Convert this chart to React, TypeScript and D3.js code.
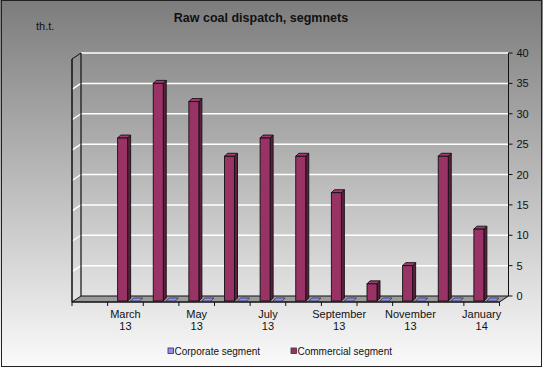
import React from 'react';
import * as d3 from 'd3';

// monthly values, th.t.
const months = ['February', 'March', 'April', 'May', 'June', 'July', 'August',
  'September', 'October', 'November', 'December', 'January'];
const years = ['13', '13', '13', '13', '13', '13', '13', '13', '13', '13', '13', '14'];
const corporate = [null, 0, 0, 0, 0, 0, 0, 0, 0, 0, 0, 0];
const commercial = [null, 26, 35, 32, 23, 26, 23, 17, 2, 5, 23, 11];
const yTicks = [0, 5, 10, 15, 20, 25, 30, 35, 40];

const W = 543, H = 368;
const DX = 9, DY = -6;           // depth of the 3d box
const front = { left: 72, right: 499.5, bottom: 302 };
const font = 'Arial, "Liberation Sans", sans-serif';

const App = () => {
  const x = d3.scaleBand<number>()
              .domain(d3.range(months.length))
              .range([front.left, front.right])
              .padding(0);
  const y = d3.scaleLinear()
              .domain([0, 40])
              .range([front.bottom + DY, 53]);

  const bw = x.bandwidth();
  const backL = front.left + DX, backR = front.right + DX;
  const floorY = front.bottom + DY;

  const pts = (p: number[][]) => p.map(d => d.join(',')).join(' ');

  return (
    <svg width={W} height={H} style={{ position: 'absolute', left: 0, top: 0 }}
         fontFamily={font}>
      <defs>
        <linearGradient id="bg" x1="0" y1="0" x2="0" y2="1">
          <stop offset="0" stopColor="#7c7c7c" />
          <stop offset="1" stopColor="#fbfbfb" />
        </linearGradient>
      </defs>
      <rect x={0} y={0} width={W} height={H} fill="url(#bg)" />
      <rect x={1.5} y={0.5} width={540} height={366} fill="none" stroke="#222" />

      <text x={261} y={22} textAnchor="middle" fontSize={12.5} fontWeight="bold"
            fill="#111">Raw coal dispatch, segmnets</text>
      <text x={36} y={30} fontSize={11} fill="#111">th.t.</text>

      {/* gridlines on back wall and left wall */}
      {yTicks.filter(t => t > 0).map(t =>
        <g key={`g${t}`}>
          <line x1={backL} x2={backR} y1={y(t)} y2={y(t)} stroke="#fff" strokeWidth={1.5} />
          <line x1={front.left} x2={backL} y1={y(t) - DY} y2={y(t)} stroke="#fff" strokeWidth={1.5} />
        </g>
      )}

      {/* floor */}
      <polygon points={pts([[front.left, front.bottom], [front.right, front.bottom],
                            [backR, floorY], [backL, floorY]])}
               fill="#9a9a9a" stroke="#111" strokeWidth={1} />

      {/* walls edges */}
      <line x1={backL} x2={backL} y1={y(40)} y2={floorY} stroke="#111" strokeWidth={1.2} />
      <line x1={front.left} x2={front.left} y1={y(40) - DY} y2={front.bottom} stroke="#111" strokeWidth={1.5} />
      <line x1={front.left} x2={backL} y1={y(40) - DY} y2={y(40)} stroke="#111" strokeWidth={1.2} />

      {/* right value axis */}
      <line x1={backR} x2={backR} y1={y(40)} y2={floorY} stroke="#111" />
      {yTicks.map(t =>
        <g key={`t${t}`}>
          <line x1={backR} x2={backR + 4} y1={y(t)} y2={y(t)} stroke="#111" />
          <text x={backR + 8} y={y(t) + 4} fontSize={11} fill="#111">{t}</text>
        </g>
      )}

      {/* category axis */}
      <line x1={front.left} x2={front.right} y1={front.bottom} y2={front.bottom} stroke="#111" />
      {d3.range(months.length + 1).map(i => {
        const xx = front.left + i * bw;
        return <line key={`c${i}`} x1={xx} x2={xx} y1={front.bottom} y2={front.bottom + 4} stroke="#111" />;
      })}
      {months.map((m, i) => i % 2 === 1 &&
        <text key={`l${i}`} x={x(i)! + bw / 2} textAnchor="middle" fontSize={11} fill="#111">
          <tspan x={x(i)! + bw / 2} y={318}>{m}</tspan>
          <tspan x={x(i)! + bw / 2} y={330}>{years[i]}</tspan>
        </text>
      )}

      {/* corporate series: flat bars on the floor */}
      {corporate.map((v, i) => {
        if (v == null) return null;
        const x0 = x(i)! + 23, base = front.bottom - 1;
        const top = base - (y(0) - y(v));
        return <polygon key={`p${i}`}
                        points={pts([[x0, top], [x0 + 9, top], [x0 + 12, top - 3], [x0 + 3, top - 3]])}
                        fill="#8f8fff" stroke="#333" strokeWidth={0.8} />;
      })}

      {/* commercial series: 3d columns */}
      {commercial.map((v, i) => {
        if (v == null) return null;
        const x0 = x(i)! + 10, w = 10, d = 3;
        const top = y(v), base = front.bottom - 1;
        return (
          <g key={`b${i}`} stroke="#111" strokeWidth={0.9}>
            <polygon points={pts([[x0 + w, top], [x0 + w + d, top - d], [x0 + w + d, base - d], [x0 + w, base]])}
                     fill="#5e1f3f" />
            <polygon points={pts([[x0, top], [x0 + d, top - d], [x0 + w + d, top - d], [x0 + w, top]])}
                     fill="#a33a6e" />
            <rect x={x0} y={top} width={w} height={base - top} fill="#993366" />
          </g>
        );
      })}

      {/* legend */}
      <rect x={168} y={348} width={5.5} height={5.5} fill="#8f8fff" stroke="#333" strokeWidth={0.8} />
      <text x={174.5} y={355} fontSize={10} fill="#111">Corporate segment</text>
      <rect x={291} y={348} width={5.5} height={5.5} fill="#993366" stroke="#333" strokeWidth={0.8} />
      <text x={297.5} y={355} fontSize={10} fill="#111">Commercial segment</text>
    </svg>
  );
};

export default App;
